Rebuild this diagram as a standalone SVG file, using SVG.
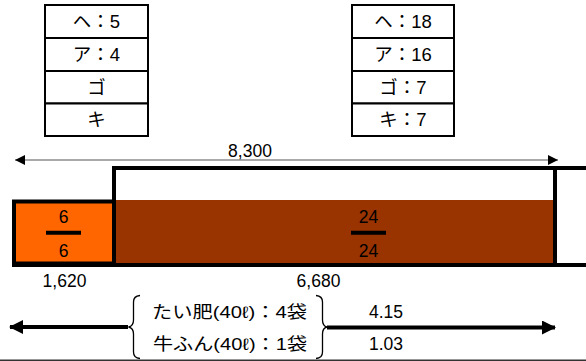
<svg xmlns="http://www.w3.org/2000/svg" width="586" height="361" viewBox="0 0 586 361">
<style>
text{font-family:"Liberation Sans","Noto Sans CJK JP",sans-serif;fill:#000}
.cell{fill:#fff;stroke:#000;stroke-width:2}
.t{font-size:18.5px;text-anchor:middle}
.num{font-size:17.5px;text-anchor:middle}
.jp{font-size:16.5px}
.frame{fill:none;stroke:#000;stroke-width:4}
.thin{fill:none;stroke:#555;stroke-width:1.2}
.thick{fill:none;stroke:#000;stroke-width:4}
.brace{fill:none;stroke:#000;stroke-width:1.3}
.bar{stroke:#000;stroke-width:4}
</style>
<defs>
<marker id="ah" viewBox="0 0 10 10" refX="10" refY="5" markerWidth="10" markerHeight="10" markerUnits="userSpaceOnUse" orient="auto-start-reverse"><path d="M0,0 L10,5 L0,10 Z" fill="#000"/></marker>
<marker id="ahb" viewBox="0 0 14 14" refX="13" refY="7" markerWidth="14" markerHeight="14" markerUnits="userSpaceOnUse" orient="auto-start-reverse"><path d="M0,0 L14,7 L0,14 Z" fill="#000"/></marker>
</defs>
<g id="table-left">
<rect class="cell" x="45" y="5" width="103" height="33"/>
<rect class="cell" x="45" y="38" width="103" height="33"/>
<rect class="cell" x="45" y="71" width="103" height="32.5"/>
<rect class="cell" x="45" y="103.5" width="103" height="32.5"/>
<text class="t" x="96.5" y="28">ヘ：5</text>
<text class="t" x="96.5" y="61">ア：4</text>
<text class="t" x="96.5" y="93.5">ゴ</text>
<text class="t" x="96.5" y="126">キ</text>
</g>
<g id="table-right">
<rect class="cell" x="352" y="5" width="102" height="33"/>
<rect class="cell" x="352" y="38" width="102" height="33"/>
<rect class="cell" x="352" y="71" width="102" height="32.5"/>
<rect class="cell" x="352" y="103.5" width="102" height="32.5"/>
<text class="t" x="403" y="28">ヘ：18</text>
<text class="t" x="403" y="61">ア：16</text>
<text class="t" x="403" y="93.5">ゴ：7</text>
<text class="t" x="403" y="126">キ：7</text>
</g>
<g id="bed">
<rect x="114" y="200" width="439" height="63" fill="#993300"/>
<path class="frame" d="M114,265 V168 H586 M555,168 V265 M12,265 H586"/>
<rect x="14" y="201.5" width="100" height="62" fill="#FF6600" stroke="#000" stroke-width="4"/>
</g>
<g id="fraction-left">
<line class="bar" x1="46" y1="232.7" x2="81" y2="232.7"/>
<text class="num" x="63.5" y="223">6</text>
<text class="num" x="63.5" y="257">6</text>
</g>
<g id="fraction-right">
<line class="bar" x1="351" y1="232.7" x2="386" y2="232.7"/>
<text class="num" x="368.5" y="223">24</text>
<text class="num" x="368.5" y="257">24</text>
</g>
<g id="labels">
<text class="num" x="250" y="157">8,300</text>
<text class="num" x="64.5" y="287">1,620</text>
<text class="num" x="318.5" y="287">6,680</text>
<text class="num" x="386" y="318">4.15</text>
<text class="num" x="386" y="350">1.03</text>
</g>
<g id="fertilizer">
<path class="brace" d="M140,295.5 Q133.5,296 133.5,302 V320 Q133.5,326 128.5,327 Q133.5,328 133.5,334 V352 Q133.5,358 140,358.5"/>
<path class="brace" d="M316,295.5 Q322.5,296 322.5,302 V320 Q322.5,326 327,327 Q322.5,328 322.5,334 V352 Q322.5,358 316,358.5"/>
<text class="jp" x="152" y="318" textLength="155" lengthAdjust="spacingAndGlyphs">たい肥(40ℓ)：4袋</text>
<text class="jp" x="153" y="350" textLength="154" lengthAdjust="spacingAndGlyphs">牛ふん(40ℓ)：1袋</text>
</g>
<g id="connectors">
<line class="thin" x1="15" y1="160" x2="558" y2="160" marker-start="url(#ah)" marker-end="url(#ah)"/>
<line class="thick" x1="128" y1="327" x2="10" y2="327" marker-end="url(#ahb)"/>
<line class="thick" x1="327" y1="327.5" x2="555" y2="327.5" marker-end="url(#ahb)"/>
</g>
<line x1="0" y1="360.3" x2="586" y2="360.3" stroke="#333" stroke-width="1.4"/>
</svg>
